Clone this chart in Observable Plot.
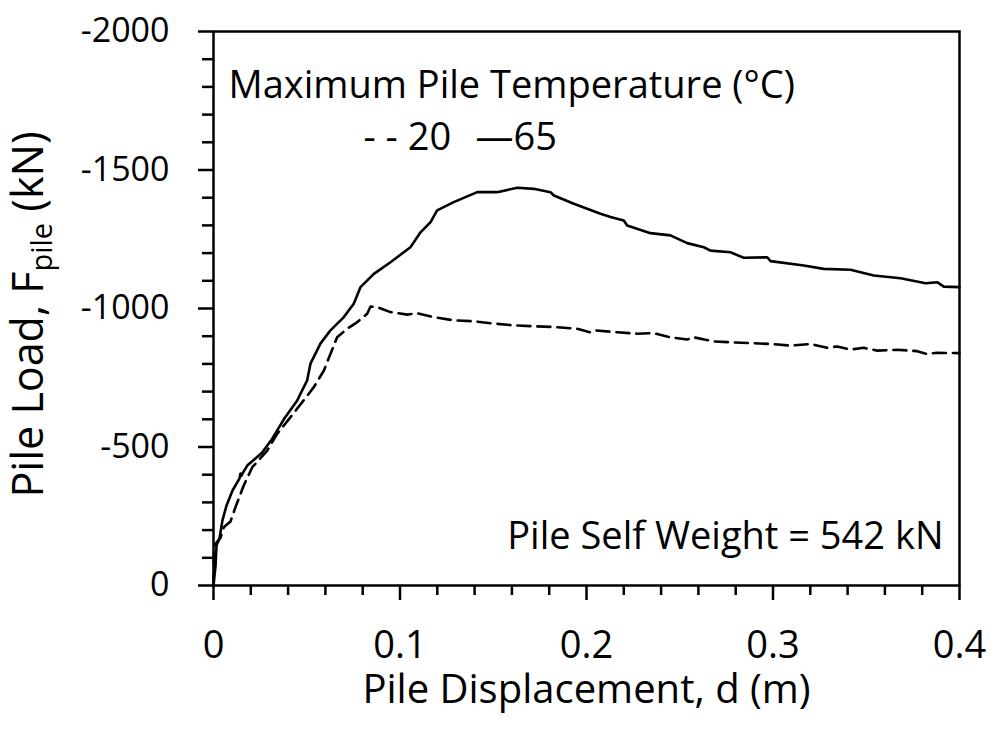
<!DOCTYPE html>
<html><head><meta charset="utf-8">
<script src="https://cdn.jsdelivr.net/npm/d3@7"></script>
<script src="https://cdn.jsdelivr.net/npm/@observablehq/plot@0.6"></script>
<style>body{margin:0;background:#fff;}</style>
</head><body><div id="chart"></div>
<script>
// Series: maximum pile temperature 20 °C (dashed) and 65 °C (solid)
const disp20 = [0, 0.0003, 0.0038, 0.0055, 0.0091, 0.0118, 0.0162, 0.0208, 0.0288, 0.0342, 0.0413, 0.0476, 0.0538, 0.0592, 0.0627, 0.0663, 0.0717, 0.0771, 0.0824, 0.0842, 0.0878, 0.0949, 0.1039, 0.1092, 0.1181, 0.1288, 0.1396, 0.1485, 0.1610, 0.1717, 0.1825, 0.1950, 0.2021, 0.2048, 0.2165, 0.2272, 0.2361, 0.2450, 0.2540, 0.2575, 0.2683, 0.2772, 0.2879, 0.2987, 0.3094, 0.3201, 0.3291, 0.3344, 0.3416, 0.3487, 0.3559, 0.3666, 0.3773, 0.3826, 0.3880, 0.4000];
const load20 = [0, -144, -173, -210, -231, -283, -361, -427, -487, -548, -608, -662, -716, -776, -836, -896, -927, -951, -981, -1007, -1005, -987, -978, -983, -969, -957, -954, -947, -939, -936, -933, -927, -914, -921, -914, -909, -911, -896, -888, -896, -881, -878, -875, -872, -866, -872, -858, -863, -852, -858, -848, -851, -846, -836, -840, -839];
const disp65 = [0, 0.0011, 0.0016, 0.0032, 0.0048, 0.0070, 0.0102, 0.0139, 0.0145, 0.0150, 0.0155, 0.0181, 0.0261, 0.0315, 0.0377, 0.0449, 0.0466, 0.0502, 0.0520, 0.0574, 0.0627, 0.0699, 0.0752, 0.0788, 0.0860, 0.0949, 0.1056, 0.1110, 0.1164, 0.1199, 0.1288, 0.1414, 0.1521, 0.1628, 0.1717, 0.1807, 0.1825, 0.1932, 0.2075, 0.2129, 0.2200, 0.2218, 0.2343, 0.2450, 0.2540, 0.2629, 0.2665, 0.2772, 0.2843, 0.2969, 0.2987, 0.3165, 0.3272, 0.3416, 0.3540, 0.3684, 0.3818, 0.3880, 0.3916, 0.4000];
const load65 = [0, -72, -144, -170, -235, -289, -343, -386, -404, -396, -404, -433, -480, -530, -600, -668, -692, -740, -801, -874, -921, -969, -1017, -1077, -1125, -1167, -1221, -1275, -1312, -1354, -1384, -1420, -1420, -1436, -1432, -1420, -1408, -1378, -1342, -1330, -1318, -1300, -1272, -1264, -1236, -1221, -1209, -1203, -1183, -1185, -1171, -1155, -1143, -1140, -1119, -1109, -1091, -1095, -1079, -1077];

// Axis ticks
const xTicks = [0, 0.1, 0.2, 0.3, 0.4];
const xTickLabels = ["0", "0.1", "0.2", "0.3", "0.4"];
const xMinor = [0.02, 0.04, 0.06, 0.08, 0.12, 0.14, 0.16, 0.18, 0.22, 0.24, 0.26, 0.28, 0.32, 0.34, 0.36, 0.38];
const yTicks = [0, -500, -1000, -1500, -2000];
const yTickLabels = ["0", "-500", "-1000", "-1500", "-2000"];
const yMinor = [-100, -200, -300, -400, -600, -700, -800, -900, -1100, -1200, -1300, -1400, -1600, -1700, -1800, -1900];

// Texts
const xTitle = "Pile Displacement, d (m)";
const yTitle = "Pile Load, Fpile (kN)";
const legendTitle = "Maximum Pile Temperature (°C)";
const legend20 = "- - 20";
const legend65 = "—65";
const note = "Pile Self Weight = 542 kN";

const s20 = disp20.map((d, i) => ({d, f: load20[i]}));
const s65 = disp65.map((d, i) => ({d, f: load65[i]}));

const chart = Plot.plot({
  width: 997,
  height: 729,
  marginLeft: 213,
  marginRight: 38,
  marginTop: 31,
  marginBottom: 144,
  style: {fontFamily: "'Open Sans', sans-serif", color: "#000", background: "#fff"},
  x: {domain: [0, 0.4]},
  y: {domain: [0, -2000]},
  marks: [
    Plot.axisX({ticks: xMinor, tickSize: 10, tickFormat: () => "", strokeWidth: 2.5, label: null}),
    Plot.axisX({ticks: xTicks, tickSize: 15, tickPadding: 31, fontSize: 38, strokeWidth: 2.5,
      tickFormat: (d) => xTickLabels[xTicks.indexOf(d)], label: null}),
    Plot.axisY({ticks: yMinor, tickSize: 11, tickFormat: () => "", strokeWidth: 2.5, label: null}),
    Plot.axisY({ticks: yTicks, tickSize: 15, tickPadding: 29, fontSize: 34, strokeWidth: 2.5,
      tickFormat: (d) => yTickLabels[yTicks.indexOf(d)], label: null}),
    Plot.frame({stroke: "#000", strokeWidth: 2.5}),
    Plot.line(s20, {x: "d", y: "f", stroke: "#000", strokeWidth: 2.6, strokeDasharray: "13,7"}),
    Plot.line(s65, {x: "d", y: "f", stroke: "#000", strokeWidth: 2.6}),
    Plot.text([legendTitle], {frameAnchor: "top-left", textAnchor: "start", dx: 15, dy: 40, fontSize: 38, fill: "#000"}),
    Plot.text([legend20], {frameAnchor: "top-left", textAnchor: "start", dx: 150, dy: 92, fontSize: 38, fill: "#000"}),
    Plot.text([legend65], {frameAnchor: "top-left", textAnchor: "start", dx: 262, dy: 92, fontSize: 38, fill: "#000"}),
    Plot.text([note], {frameAnchor: "bottom-right", textAnchor: "end", dx: -16, dy: -37, fontSize: 38, fill: "#000"}),
    Plot.text([xTitle], {frameAnchor: "bottom", dy: 117, fontSize: 40, fill: "#000"}),
    Plot.text([yTitle], {frameAnchor: "left", textAnchor: "start", rotate: -90, dx: -184, dy: 189, fontSize: 43, fill: "#000"})
  ]
});

// subscript "pile" in the y title
for (const t of chart.querySelectorAll("text")) {
  if (t.textContent === yTitle) {
    const ns = "http://www.w3.org/2000/svg";
    t.textContent = "";
    const a = document.createElementNS(ns, "tspan"); a.textContent = "Pile Load, F";
    const b = document.createElementNS(ns, "tspan"); b.textContent = "pile";
    b.setAttribute("font-size", "29"); b.setAttribute("dy", "9");
    const c = document.createElementNS(ns, "tspan"); c.textContent = " (kN)"; c.setAttribute("dy", "-9");
    t.append(a, b, c);
  }
}
document.getElementById("chart").append(chart);
</script>
</body></html>
